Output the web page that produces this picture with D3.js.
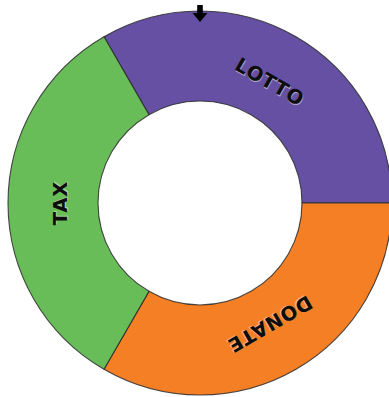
<!DOCTYPE html>
<html>
<head>
<meta charset="utf-8">
<script src="https://cdn.jsdelivr.net/npm/d3@7"></script>
<style>
  html, body { margin: 0; padding: 0; background: #fff; overflow: hidden; }
  svg { display: block; }
</style>
</head>
<body>
<svg id="wheel" width="389" height="397"></svg>
<script>
// Wheel segments, clockwise from the top-right
const categories = ["LOTTO", "DONATE", "TAX"];
const values = [1, 1, 1];
const colors = ["#6550a3", "#f47f24", "#69bd59"];

const width = 389, height = 397;
const cx = 200, cy = 203;
const outerR = 192, innerR = 102, labelR = 140;

const svg = d3.select("#wheel");
const g = svg.append("g").attr("transform", `translate(${cx},${cy})`);

const data = categories.map((c, i) => ({ name: c, value: values[i], color: colors[i] }));

const pie = d3.pie()
  .sort(null)
  .value(d => d.value)
  .startAngle(-Math.PI / 6)
  .endAngle(2 * Math.PI - Math.PI / 6);

const arc = d3.arc().innerRadius(innerR).outerRadius(outerR);

const slices = g.selectAll("g.slice")
  .data(pie(data))
  .join("g")
  .attr("class", "slice");

slices.append("path")
  .attr("d", arc)
  .attr("fill", d => d.data.color)
  .attr("stroke", "#2a2a2a")
  .attr("stroke-width", 1.1)
  .attr("stroke-opacity", 0.85);

// Labels sit across the ring, turned to the middle of their segment
const mid = d => (d.startAngle + d.endAngle) / 2 * 180 / Math.PI;

const labels = slices.append("g")
  .attr("transform", d => `rotate(${mid(d)}) translate(0,${-labelR})`);

const styleLabel = sel => sel
  .attr("text-anchor", "middle")
  .attr("dy", "0.36em")
  .style("font-family", "'DejaVu Sans', sans-serif")
  .style("font-weight", "bold")
  .style("font-size", "19.5px")
  .style("letter-spacing", "0.8px")
  .text(d => d.data.name);

labels.append("text")
  .attr("x", 1)
  .attr("y", 1)
  .attr("fill", "#e8e8e8")
  .attr("fill-opacity", 0.55)
  .call(styleLabel);

labels.append("text")
  .attr("fill", "#0d0d0d")
  .call(styleLabel);

// Pointer at the top of the wheel
const pointer = [[-2.8, -198], [2.8, -198], [2.8, -190], [7.5, -190], [0, -181], [-7.5, -190], [-2.8, -190]];
g.append("path")
  .attr("d", d3.line()(pointer) + "Z")
  .attr("fill", "#000");
</script>
</body>
</html>
